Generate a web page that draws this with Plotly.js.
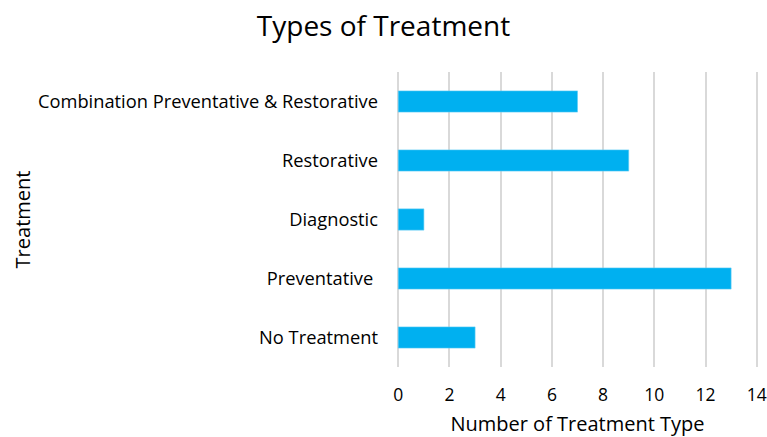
<!DOCTYPE html>
<html>
<head>
<meta charset="utf-8">
<script src="https://cdn.plot.ly/plotly-3.0.1.min.js"></script>
<style>html,body{margin:0;padding:0;background:#fff;}#chart{width:767px;height:437px;}</style>
</head>
<body>
<div id="chart"></div>
<script>
const categories = ["No Treatment", "Preventative ", "Diagnostic", "Restorative", "Combination Preventative & Restorative"];
const counts = [3, 13, 1, 9, 7];
const xTicks = [0, 2, 4, 6, 8, 10, 12, 14];

const fontFam = "'Open Sans', 'Noto Sans', sans-serif";
const trace = {
  type: 'bar',
  orientation: 'h',
  y: categories,
  x: counts,
  width: 0.36,
  marker: {color: '#00b0f0', line: {color: '#5fcdf5', width: 0.6}},
  hoverinfo: 'x+y'
};
const layout = {
  width: 767, height: 437,
  margin: {l: 397, r: 9, t: 72, b: 70},
  paper_bgcolor: '#fff', plot_bgcolor: '#fff',
  font: {family: fontFam, color: '#000', size: 18},
  title: {text: 'Types of Treatment', font: {size: 28, family: fontFam, color: '#000'}, x: 0.5, xanchor: 'center', y: 0.94, yanchor: 'middle'},
  xaxis: {
    range: [-0.05, 14.05], tickvals: xTicks, ticktext: xTicks.map(String),
    showgrid: true, gridcolor: '#d9d9d9', gridwidth: 2,
    zeroline: false,
    showline: false, ticks: '', ticklabelstandoff: 15,
    ticklabeloverflow: 'allow',
    tickfont: {size: 17.5},
    title: {text: 'Number of Treatment Type', font: {size: 20}, standoff: 19}
  },
  yaxis: {
    categoryorder: 'array', categoryarray: categories,
    range: [-0.5, 4.5],
    showgrid: false, zeroline: false, showline: false, ticks: '',
    ticklabelstandoff: 18,
    tickfont: {size: 18.3},
    title: {text: 'Treatment', font: {size: 20}, standoff: 2}
  },
  showlegend: false
};
Plotly.newPlot('chart', [trace], layout, {displayModeBar: false, staticPlot: true});
</script>
</body>
</html>
